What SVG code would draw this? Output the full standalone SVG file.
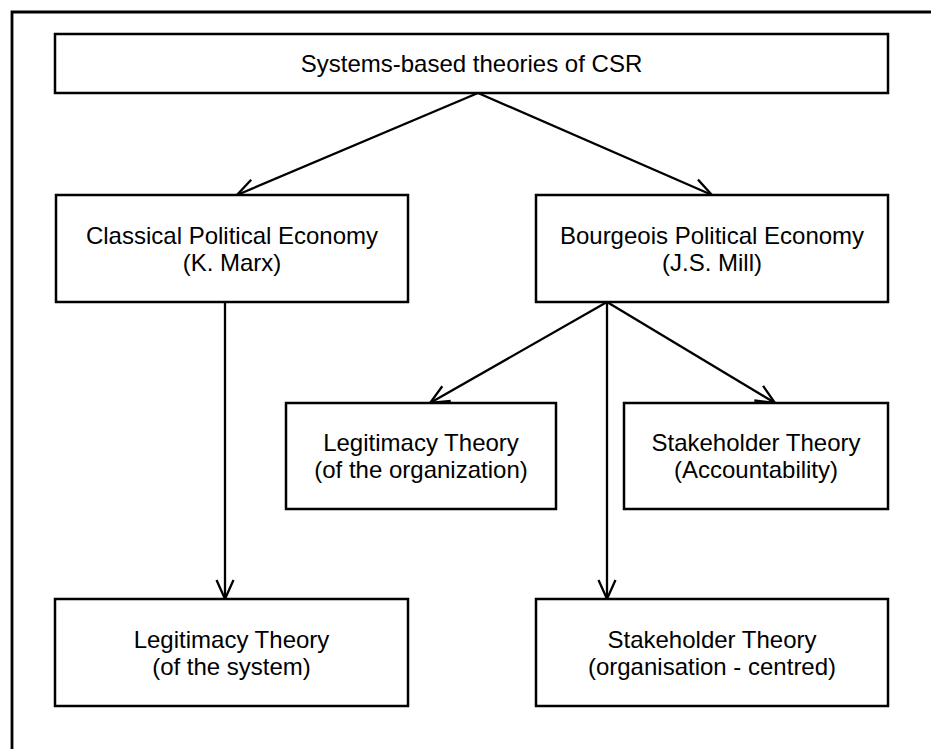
<svg xmlns="http://www.w3.org/2000/svg" width="931" height="749" viewBox="0 0 931 749">
<style>
.box{fill:#fff;stroke:#000;stroke-width:2.5}
.t{font-family:"Liberation Sans",Arial,sans-serif;font-size:24px;fill:#000;text-anchor:middle}
.c{stroke:#000;stroke-width:2.3;fill:none;marker-end:url(#ah)}
</style>
<defs>
<marker id="ah" markerUnits="userSpaceOnUse" viewBox="-20 -12 24 24" markerWidth="24" markerHeight="24" refX="0" refY="0" orient="auto" overflow="visible">
<path d="M-19,-8.5 L0,0 L-19,8.5" fill="none" stroke="#000" stroke-width="2.3"/>
</marker>
</defs>
<rect width="931" height="749" fill="#fff"/>
<path d="M12,749 L12,12 L931,12" fill="none" stroke="#000" stroke-width="2.8"/>
<g id="connectors">
<line class="c" x1="478" y1="93" x2="237" y2="195"/>
<line class="c" x1="478" y1="93" x2="712" y2="195"/>
<line class="c" x1="607" y1="302" x2="430" y2="403"/>
<line class="c" x1="607" y1="302" x2="775" y2="403"/>
<line class="c" x1="607" y1="302" x2="607" y2="599"/>
<line class="c" x1="225" y1="302" x2="225" y2="599"/>
</g>
<g id="n-systems">
<rect class="box" x="55" y="34" width="833" height="59"/>
<text class="t" x="471.5" y="72">Systems-based theories of CSR</text>
</g>
<g id="n-classical">
<rect class="box" x="56" y="195" width="352" height="107"/>
<text class="t" x="232" y="243.5">Classical Political Economy</text>
<text class="t" x="232" y="270.5">(K. Marx)</text>
</g>
<g id="n-bourgeois">
<rect class="box" x="536" y="195" width="352" height="107"/>
<text class="t" x="712" y="243.5">Bourgeois Political Economy</text>
<text class="t" x="712" y="270.5">(J.S. Mill)</text>
</g>
<g id="n-legit-org">
<rect class="box" x="286" y="403" width="270" height="106"/>
<text class="t" x="421" y="451">Legitimacy Theory</text>
<text class="t" x="421" y="478">(of the organization)</text>
</g>
<g id="n-stake-acc">
<rect class="box" x="624" y="403" width="264" height="106"/>
<text class="t" x="756" y="451">Stakeholder Theory</text>
<text class="t" x="756" y="478">(Accountability)</text>
</g>
<g id="n-legit-sys">
<rect class="box" x="55" y="599" width="353" height="107"/>
<text class="t" x="231.5" y="647.5">Legitimacy Theory</text>
<text class="t" x="231.5" y="674.5">(of the system)</text>
</g>
<g id="n-stake-org">
<rect class="box" x="536" y="599" width="352" height="107"/>
<text class="t" x="712" y="647.5">Stakeholder Theory</text>
<text class="t" x="712" y="674.5">(organisation - centred)</text>
</g>
</svg>
